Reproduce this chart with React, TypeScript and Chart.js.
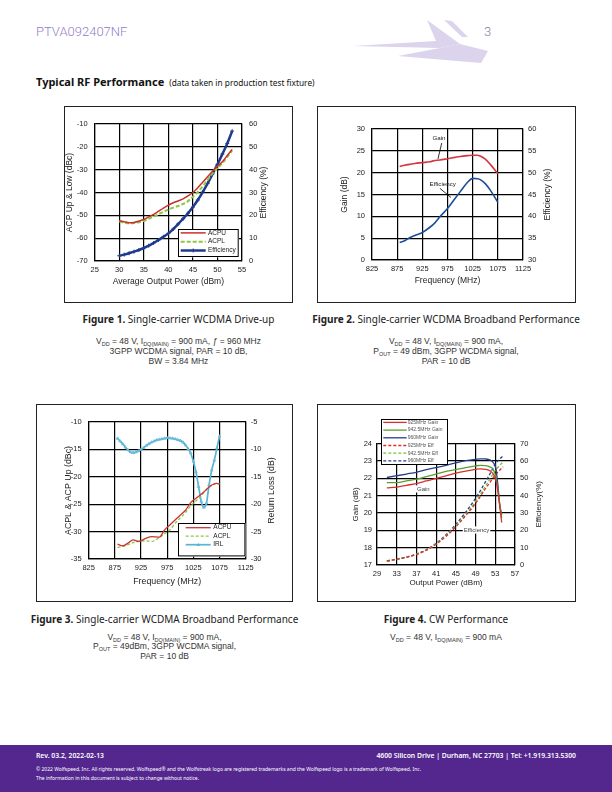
import React, { useEffect, useRef } from "react";
import { Chart, registerables } from "chart.js";

Chart.register(...registerables);

const AXIS_FONT = "'Liberation Sans', Arial, Helvetica, sans-serif";
const TEXT_FONT = "'Noto Sans', 'Open Sans', sans-serif";

// ---------- Figure 1: Single-carrier WCDMA Drive-up ----------
const fig1Pout = [30, 31, 32, 33, 34, 35, 36, 37, 38, 39, 40, 41, 42, 43, 44, 45, 46, 47, 48, 49, 50, 51, 52, 53];
const fig1Acpu = [-52.3, -52.8, -53.2, -53.1, -52.5, -51.8, -50.7, -49.6, -48.2, -46.8, -45.5, -44.5, -43.7, -42.8, -41.5, -40.0, -37.9, -35.5, -33.1, -30.6, -28.5, -26.5, -23.8, -21.1];
const fig1Acpl = [-52.6, -53.2, -53.5, -53.4, -53.0, -52.4, -51.5, -50.6, -49.5, -48.5, -47.5, -46.6, -45.9, -45.0, -43.8, -41.8, -39.8, -37.3, -34.5, -31.6, -29.3, -27.2, -24.4, -21.6];
const fig1Eff = [2.3, 2.8, 3.4, 4.1, 4.8, 5.7, 6.7, 7.9, 9.2, 10.6, 12.1, 14.0, 16.2, 18.5, 20.9, 23.6, 26.7, 30.2, 34.0, 38.1, 42.3, 46.8, 51.5, 56.9];

// ---------- Figure 2: Broadband (Gain / Efficiency) ----------
const fig2Freq = [880, 890, 900, 910, 925, 940, 950, 960, 975, 990, 1000, 1015, 1025, 1035, 1040, 1050, 1060, 1075];
const fig2Gain = [21.4, 21.7, 21.9, 22.1, 22.3, 22.5, 22.8, 22.9, 23.2, 23.5, 23.7, 23.9, 24.0, 24.0, 23.8, 23.1, 21.9, 19.8];
const fig2Eff = [34.0, 34.4, 35.1, 35.6, 36.3, 37.5, 38.5, 39.9, 41.8, 44.1, 45.6, 47.8, 48.7, 48.6, 48.4, 47.5, 46.0, 43.2];

// ---------- Figure 3: Broadband (ACP / IRL) ----------
const fig3Freq = [880, 890, 900, 910, 920, 935, 945, 960, 970, 980, 990, 1000, 1010, 1020, 1030, 1040, 1050, 1060, 1070, 1075];
const fig3Acpu = [-32.3, -32.6, -32.1, -31.5, -31.8, -31.2, -30.9, -31.0, -29.7, -28.8, -27.9, -27.0, -26.1, -24.7, -23.9, -23.2, -22.3, -21.5, -21.2, -21.4];
const fig3Acpl = [-32.9, -32.7, -32.4, -32.0, -31.8, -31.7, -31.8, -31.1, -30.4, -29.7, -28.5, -27.5, -26.5, -25.3, -24.4, -23.5, -22.3, -21.6, -21.2, -21.2];
const fig3IrlFreq = [880, 885, 890, 895, 900, 905, 910, 915, 920, 925, 930, 935, 940, 945, 950, 955, 960, 965, 970, 975, 980, 985, 990, 995, 1000, 1005, 1010, 1015, 1020, 1025, 1030, 1035, 1040, 1045, 1050, 1055, 1060, 1065, 1070, 1075];
const fig3Irl = [-8.0, -8.5, -9.0, -9.6, -10.1, -10.5, -10.6, -10.5, -10.3, -10.0, -9.7, -9.3, -9.0, -8.7, -8.5, -8.3, -8.2, -8.1, -8.0, -7.9, -7.95, -8.0, -8.1, -8.25, -8.4, -8.7, -9.2, -9.9, -10.7, -12.2, -14.1, -16.8, -19.5, -20.6, -19.8, -16.5, -13.8, -12.0, -9.8, -7.6];

// ---------- Figure 4: CW Performance ----------
const fig4GainPout = [31, 33, 35, 37, 39, 41, 43, 45, 47, 49, 50, 51, 52, 52.6, 53.1, 53.5, 53.9, 54.3];
const fig4Gain925 = [21.45, 21.5, 21.6, 21.7, 21.85, 22.0, 22.15, 22.3, 22.42, 22.52, 22.55, 22.52, 22.42, 22.25, 21.9, 21.3, 20.4, 19.45];
const fig4Gain942 = [21.75, 21.75, 21.85, 21.95, 22.1, 22.25, 22.4, 22.5, 22.62, 22.72, 22.75, 22.74, 22.65, 22.5, 22.1, 21.4, 20.5, 19.7];
const fig4Gain960 = [22.05, 22.15, 22.25, 22.35, 22.5, 22.62, 22.75, 22.9, 23.02, 23.1, 23.13, 23.12, 23.05, 22.9, 22.6, 21.7, 20.5, 19.9];
const fig4EffPout = [31, 33, 35, 37, 39, 41, 43, 45, 47, 49, 50, 51, 52, 53, 54, 54.6];
const fig4Eff925 = [2.3, 3.3, 4.5, 6.1, 8.5, 12.0, 16.5, 22.0, 28.5, 35.5, 39.7, 44.0, 48.0, 52.0, 55.0, 56.7];
const fig4Eff942 = [2.3, 3.3, 4.5, 6.2, 8.6, 12.2, 16.9, 22.6, 29.2, 36.7, 41.0, 45.5, 50.0, 54.5, 57.8, 59.6];
const fig4Eff960 = [2.3, 3.3, 4.6, 6.3, 8.8, 12.5, 17.5, 23.5, 30.5, 38.5, 43.0, 48.0, 53.0, 58.2, 61.5, 63.0];

const pts = (xs: number[], ys: number[]) => xs.map((x, i) => ({ x, y: ys[i] }));

// ---------- plugins ----------
const boxLegendPlugin = {
  id: "boxLegend",
  afterDatasetsDraw(chart: any, _a: any, o: any) {
    if (!o || !o.display) return;
    const { ctx, chartArea } = chart;
    const x0 = chartArea.left + o.left;
    const y0 = chartArea.top + o.top;
    ctx.save();
    ctx.fillStyle = "#fff";
    ctx.fillRect(x0, y0, o.width, o.height);
    ctx.strokeStyle = "#000";
    ctx.lineWidth = 1;
    ctx.strokeRect(Math.round(x0) + 0.5, Math.round(y0) + 0.5, o.width - 1, o.height - 1);
    chart.data.datasets.forEach((ds: any, i: number) => {
      const y = y0 + o.firstRow + i * o.rowGap;
      ctx.strokeStyle = ds.borderColor;
      ctx.lineWidth = ds.borderWidth;
      ctx.setLineDash(ds.borderDash || []);
      ctx.beginPath();
      ctx.moveTo(x0 + o.lineX1, y);
      ctx.lineTo(x0 + o.lineX2, y);
      ctx.stroke();
      ctx.setLineDash([]);
      if (ds.pointRadius > 0) {
        const mx = x0 + (o.lineX1 + o.lineX2) / 2;
        ctx.lineWidth = 1;
        ctx.fillStyle = ds.borderColor;
        if (ds.pointStyle === "triangle") {
          ctx.beginPath();
          ctx.moveTo(mx, y - 1.8);
          ctx.lineTo(mx + 1.8, y + 1.3);
          ctx.lineTo(mx - 1.8, y + 1.3);
          ctx.closePath();
          ctx.fill();
        } else {
          ctx.beginPath();
          ctx.moveTo(mx, y - 2);
          ctx.lineTo(mx, y + 2);
          ctx.stroke();
        }
      }
      ctx.fillStyle = o.color;
      ctx.font = `${o.size}px ${AXIS_FONT}`;
      ctx.textBaseline = "middle";
      ctx.textAlign = "left";
      ctx.fillText(ds.label, x0 + o.textX, y);
    });
    ctx.restore();
  },
};

const notesPlugin = {
  id: "notes",
  afterDatasetsDraw(chart: any, _a: any, o: any) {
    if (!o || !o.items) return;
    const { ctx } = chart;
    const xs = chart.scales.x;
    ctx.save();
    o.items.forEach((it: any) => {
      const ys = chart.scales[it.axis || "y"];
      if (it.line) {
        ctx.strokeStyle = "#000";
        ctx.lineWidth = 0.8;
        ctx.beginPath();
        ctx.moveTo(xs.getPixelForValue(it.line[0]), ys.getPixelForValue(it.line[1]));
        ctx.lineTo(xs.getPixelForValue(it.line[2]), ys.getPixelForValue(it.line[3]));
        ctx.stroke();
      }
      const px = xs.getPixelForValue(it.x);
      const py = ys.getPixelForValue(it.y);
      ctx.font = `${it.size}px ${AXIS_FONT}`;
      ctx.textAlign = "center";
      ctx.textBaseline = "middle";
      if (it.bg) {
        const w = ctx.measureText(it.text).width;
        ctx.fillStyle = "#fff";
        ctx.fillRect(px - w / 2 - 1, py - it.size * 0.6, w + 2, it.size * 1.2);
      }
      ctx.fillStyle = it.color || "#222";
      ctx.fillText(it.text, px, py);
    });
    ctx.restore();
  },
};

const sideTitlePlugin = {
  id: "sideTitle",
  afterDraw(chart: any, _a: any, o: any) {
    if (!o || !o.text) return;
    const { ctx, chartArea } = chart;
    ctx.save();
    ctx.translate(chartArea.right + o.offset, (chartArea.top + chartArea.bottom) / 2);
    ctx.rotate(-Math.PI / 2);
    ctx.font = `${o.size}px ${AXIS_FONT}`;
    ctx.fillStyle = "#222";
    ctx.textAlign = "center";
    ctx.textBaseline = "middle";
    ctx.fillText(o.text, 0, 0);
    ctx.restore();
  },
};

// ---------- axis helpers ----------
const TICK_SIZE = 7.5;

function xAxis(min: number, max: number, step: number, title: string, titleSize: number, padBottom: number, height: number, tickPad: number) {
  return {
    type: "linear",
    position: "bottom",
    min,
    max,
    ticks: {
      stepSize: step,
      padding: tickPad,
      color: "#222",
      font: { family: AXIS_FONT, size: TICK_SIZE },
      maxRotation: 0,
      autoSkip: false,
      callback: (v: any) => String(v),
    },
    grid: { color: "#000", lineWidth: 1.2, drawTicks: false },
    border: { color: "#000", width: 1.2 },
    title: { display: true, text: title, color: "#222", font: { family: AXIS_FONT, size: titleSize }, padding: { top: 0, bottom: padBottom } },
    afterFit: (s: any) => {
      s.height = height;
    },
  };
}

function yAxis(position: string, min: number, max: number, step: number, title: string | null, titleSize: number, padTop: number, width: number, tickPad: number) {
  return {
    type: "linear",
    position,
    min,
    max,
    ticks: {
      stepSize: step,
      padding: tickPad,
      color: "#222",
      font: { family: AXIS_FONT, size: TICK_SIZE },
      callback: (v: any) => String(v),
    },
    grid: { color: "#000", lineWidth: 1.2, drawTicks: false, drawOnChartArea: position === "left" },
    border: { color: "#000", width: 1.2 },
    title: title
      ? { display: true, text: title, color: "#222", font: { family: AXIS_FONT, size: titleSize }, padding: { top: padTop, bottom: 0 } }
      : { display: false },
    afterFit: (s: any) => {
      s.width = width;
    },
  };
}

const baseOptions = (topPad: number) => ({
  responsive: false,
  animation: false,
  devicePixelRatio: 1,
  layout: { padding: { top: topPad, left: 0, right: 0, bottom: 0 } },
  elements: { point: { radius: 0 }, line: { cubicInterpolationMode: "monotone" } },
});

// ---------- chart configs ----------
function fig1Config() {
  return {
    type: "line",
    data: {
      datasets: [
        { label: "ACPU", data: pts(fig1Pout, fig1Acpu), borderColor: "#cc2e2e", borderWidth: 1.5, yAxisID: "y", pointRadius: 0 },
        { label: "ACPL", data: pts(fig1Pout, fig1Acpl), borderColor: "#8dc63f", borderWidth: 2, borderDash: [4, 2], yAxisID: "y", pointRadius: 0 },
        { label: "Efficiency", data: pts(fig1Pout, fig1Eff), borderColor: "#1f3b8c", borderWidth: 2.5, yAxisID: "y1", pointRadius: 2, pointStyle: "cross", pointBorderWidth: 1 },
      ],
    },
    options: {
      ...baseOptions(18),
      scales: {
        x: xAxis(25, 55, 5, "Average Output Power (dBm)", 8.5, 16.2, 42, 4),
        y: yAxis("left", -70, -10, 10, "ACP Up & Low (dBc)", 8.5, 0.9, 30.7, 7),
        y1: yAxis("right", 0, 60, 10, null, 8.5, 0, 51, 7),
      },
      plugins: {
        legend: { display: false },
        tooltip: { enabled: false },
        boxLegend: { display: true, left: 83.6, top: 105.3, width: 60.7, height: 28, firstRow: 3.6, rowGap: 8.8, lineX1: 2.4, lineX2: 27.4, textX: 29.7, size: 6.5, color: "#222" },
        sideTitle: { text: "Efficiency (%)", offset: 22, size: 8.5 },
      },
    },
    plugins: [boxLegendPlugin, sideTitlePlugin],
  };
}

function fig2Config() {
  return {
    type: "line",
    data: {
      datasets: [
        { label: "Gain", data: pts(fig2Freq, fig2Gain), borderColor: "#d8333e", borderWidth: 1.6, yAxisID: "y" },
        { label: "Efficiency", data: pts(fig2Freq, fig2Eff), borderColor: "#1d4f9a", borderWidth: 1.6, yAxisID: "y1" },
      ],
    },
    options: {
      ...baseOptions(23),
      scales: {
        x: xAxis(825, 1125, 50, "Frequency (MHz)", 8.5, 17.2, 43, 4),
        y: yAxis("left", 0, 30, 5, "Gain (dB)", 8.5, 23.2, 56, 7),
        y1: yAxis("right", 30, 60, 5, null, 8.5, 0, 53, 5),
      },
      plugins: {
        legend: { display: false },
        tooltip: { enabled: false },
        notes: {
          items: [
            { text: "Gain", x: 958, y: 27.9, size: 6.2, line: [963.5, 26.8, 956, 23.1] },
            { text: "Efficiency", x: 965.5, y: 17.45, size: 6.2, line: [960, 16.4, 982, 14.3] },
          ],
        },
        sideTitle: { text: "Efficiency (%)", offset: 25, size: 8.5 },
      },
    },
    plugins: [notesPlugin, sideTitlePlugin],
  };
}

function fig3Config() {
  return {
    type: "line",
    data: {
      datasets: [
        { label: "ACPU", data: pts(fig3Freq, fig3Acpu), borderColor: "#cc3333", borderWidth: 1.3, yAxisID: "y", pointRadius: 0 },
        { label: "ACPL", data: pts(fig3Freq, fig3Acpl), borderColor: "#8dc63f", borderWidth: 1.3, borderDash: [3, 2], yAxisID: "y", pointRadius: 0 },
        { label: "IRL", data: pts(fig3IrlFreq, fig3Irl), borderColor: "#5ab4d6", backgroundColor: "#7fc6e0", borderWidth: 1.7, yAxisID: "y1", pointRadius: 1.6, pointBorderWidth: 0.6, pointStyle: "triangle" },
      ],
    },
    options: {
      ...baseOptions(18),
      scales: {
        x: xAxis(825, 1125, 50, "Frequency (MHz)", 8.8, 15.2, 43, 4),
        y: yAxis("left", -35, -10, 5, "ACPL & ACP Up (dBc)", 8.8, 27.7, 52.7, 7),
        y1: yAxis("right", -30, -5, 5, null, 8.8, 0, 47.3, 5),
      },
      plugins: {
        legend: { display: false },
        tooltip: { enabled: false },
        boxLegend: { display: true, left: 89.6, top: 101.3, width: 67.4, height: 33.4, firstRow: 4.4, rowGap: 8.5, lineX1: 7.4, lineX2: 32.4, textX: 35, size: 6.5, color: "#222" },
        sideTitle: { text: "Return Loss (dB)", offset: 25.6, size: 8.8 },
      },
    },
    plugins: [boxLegendPlugin, sideTitlePlugin],
  };
}

function fig4Config() {
  return {
    type: "line",
    data: {
      datasets: [
        { label: "925MHz Gain", data: pts(fig4GainPout, fig4Gain925), borderColor: "#d9302b", borderWidth: 1.3, yAxisID: "y" },
        { label: "942.5MHz Gain", data: pts(fig4GainPout, fig4Gain942), borderColor: "#5c9e2e", borderWidth: 1.3, yAxisID: "y" },
        { label: "960MHz Gain", data: pts(fig4GainPout, fig4Gain960), borderColor: "#233f8a", borderWidth: 1.3, yAxisID: "y" },
        { label: "925MHz Eff", data: pts(fig4EffPout, fig4Eff925), borderColor: "#d9302b", borderWidth: 1.3, borderDash: [3, 2], yAxisID: "y1" },
        { label: "942.5MHz Eff", data: pts(fig4EffPout, fig4Eff942), borderColor: "#7fbf3a", borderWidth: 1.3, borderDash: [3, 2], yAxisID: "y1" },
        { label: "960MHz Eff", data: pts(fig4EffPout, fig4Eff960), borderColor: "#233f8a", borderWidth: 1.3, borderDash: [3, 2], yAxisID: "y1" },
      ],
    },
    options: {
      ...baseOptions(39.7),
      scales: {
        x: xAxis(29, 57, 4, "Output Power (dBm)", 8, 14.5, 37, 4),
        y: yAxis("left", 17, 24, 1, "Gain (dB)", 8, 34.5, 61, 5),
        y1: yAxis("right", 0, 70, 10, null, 8, 0, 61, 5),
      },
      plugins: {
        legend: { display: false },
        tooltip: { enabled: false },
        notes: {
          items: [
            { text: "Gain", x: 38.4, y: 21.39, size: 6, color: "#444", bg: true },
            { text: "Efficiency", x: 49.2, y: 19.02, size: 6, color: "#444", bg: true },
          ],
        },
        boxLegend: { display: true, left: 4, top: -24.7, width: 67, height: 46, firstRow: 3.4, rowGap: 7.7, lineX1: 2.3, lineX2: 25.7, textX: 26.7, size: 5, color: "#555" },
        sideTitle: { text: "Efficiency(%)", offset: 23.7, size: 8 },
      },
    },
    plugins: [notesPlugin, boxLegendPlugin, sideTitlePlugin],
  };
}

// ---------- components ----------
function ChartCanvas({ left, top, width, height, make }: any) {
  const ref = useRef<HTMLCanvasElement>(null);
  useEffect(() => {
    const chart = new Chart(ref.current as HTMLCanvasElement, make() as any);
    return () => chart.destroy();
  }, []);
  return <canvas ref={ref} width={width} height={height} style={{ position: "absolute", left, top, width, height }} />;
}

function Frame({ left, top, width, height }: any) {
  return <div style={{ position: "absolute", left, top, width, height, border: "1px solid #222", boxSizing: "border-box", pointerEvents: "none" }} />;
}

function Line({ cx, cy, children, size = 8.5, font = AXIS_FONT, color = "#333", weight = 400 }: any) {
  return (
    <div style={{ position: "absolute", left: cx - 160, width: 320, top: cy - 6, height: 12, lineHeight: "12px", textAlign: "center", fontFamily: font, fontSize: size, color, fontWeight: weight, whiteSpace: "nowrap" }}>
      {children}
    </div>
  );
}

const subStyle: any = { fontSize: 5.5, verticalAlign: "-2px", lineHeight: 0 };

function Caption({ cx, cy, num, text }: any) {
  return (
    <Line cx={cx} cy={cy} size={10} font={TEXT_FONT} color="#222">
      <b>Figure {num}.</b> {text}
    </Line>
  );
}

export default function App() {
  return (
    <div style={{ position: "absolute", left: 0, top: 0, width: 612, height: 792, background: "#fff", overflow: "hidden" }}>
      {/* header */}
      <div style={{ position: "absolute", left: 36, top: 24, height: 16, lineHeight: "16px", fontFamily: "Roboto, 'Noto Sans', sans-serif", fontWeight: 300, fontSize: 13, color: "#9580c8" }}>PTVA092407NF</div>
      <div style={{ position: "absolute", left: 484, top: 24, height: 16, lineHeight: "16px", fontFamily: "Roboto, 'Noto Sans', sans-serif", fontWeight: 300, fontSize: 13, color: "#8a80a0" }}>3</div>
      <svg style={{ position: "absolute", left: 0, top: 0 }} width={612} height={80}>
        <polygon points="353,46 436,41 427,20 460,44 440,48" fill="#dcd3ec" />
        <polygon points="440,48 460,44 488,51 481,63 398,56" fill="#dcd3ec" />
        <polygon points="444,20 452,21 468,37 462,37" fill="#dcd3ec" />
      </svg>
      <div style={{ position: "absolute", left: 36, top: 73, height: 14, lineHeight: "14px", fontFamily: TEXT_FONT, color: "#111", whiteSpace: "nowrap" }}>
        <span style={{ fontSize: 11, fontWeight: 700 }}>Typical RF Performance</span>
        <span style={{ fontSize: 8.3, marginLeft: 5 }}>(data taken in production test fixture)</span>
      </div>

      {/* Figure 1 */}
      <ChartCanvas left={64} top={106} width={229} height={197} make={fig1Config} />
      <Frame left={64} top={106} width={229} height={197} />
      <Caption cx={178.5} cy={319} num={1} text="Single-carrier WCDMA Drive-up" />
      <Line cx={178.5} cy={341}>
        V<sub style={subStyle}>DD</sub> = 48 V, I<sub style={subStyle}>DQ(MAIN)</sub> = 900 mA, <i>ƒ</i> = 960 MHz
      </Line>
      <Line cx={178.5} cy={351}>3GPP WCDMA signal, PAR = 10 dB,</Line>
      <Line cx={178.5} cy={361}>BW = 3.84 MHz</Line>

      {/* Figure 2 */}
      <ChartCanvas left={316} top={106} width={260} height={197} make={fig2Config} />
      <Frame left={317} top={106} width={259} height={197} />
      <Caption cx={446} cy={319} num={2} text="Single-carrier WCDMA Broadband Performance" />
      <Line cx={446} cy={341}>
        V<sub style={subStyle}>DD</sub> = 48 V, I<sub style={subStyle}>DQ(MAIN)</sub> = 900 mA,
      </Line>
      <Line cx={446} cy={351}>
        P<sub style={subStyle}>OUT</sub> = 49 dBm, 3GPP WCDMA signal,
      </Line>
      <Line cx={446} cy={361}>PAR = 10 dB</Line>

      {/* Figure 3 */}
      <ChartCanvas left={36} top={404} width={257} height={198} make={fig3Config} />
      <Frame left={36} top={404} width={257} height={198} />
      <Caption cx={164.5} cy={619} num={3} text="Single-carrier WCDMA Broadband Performance" />
      <Line cx={164.5} cy={637}>
        V<sub style={subStyle}>DD</sub> = 48 V, I<sub style={subStyle}>DQ(MAIN)</sub> = 900 mA,
      </Line>
      <Line cx={164.5} cy={646}>
        P<sub style={subStyle}>OUT</sub> = 49dBm, 3GPP WCDMA signal,
      </Line>
      <Line cx={164.5} cy={656}>PAR = 10 dB</Line>

      {/* Figure 4 */}
      <ChartCanvas left={316} top={404} width={260} height={198} make={fig4Config} />
      <Frame left={317} top={404} width={259} height={198} />
      <Caption cx={446} cy={619} num={4} text="CW Performance" />
      <Line cx={446} cy={637}>
        V<sub style={subStyle}>DD</sub> = 48 V, I<sub style={subStyle}>DQ(MAIN)</sub> = 900 mA
      </Line>

      {/* footer */}
      <div style={{ position: "absolute", left: 0, top: 745, width: 612, height: 47, background: "#54278f" }} />
      <div style={{ position: "absolute", left: 36, top: 751, height: 10, lineHeight: "10px", fontFamily: TEXT_FONT, fontSize: 6.8, color: "#fff", fontWeight: 600 }}>Rev. 03.2, 2022-02-13</div>
      <div style={{ position: "absolute", right: 36, top: 751, height: 10, lineHeight: "10px", fontFamily: TEXT_FONT, fontSize: 6.8, color: "#fff", fontWeight: 600, whiteSpace: "nowrap" }}>
        4600 Silicon Drive | Durham, NC 27703 | Tel: +1.919.313.5300
      </div>
      <div style={{ position: "absolute", left: 36, top: 765, height: 8, lineHeight: "8px", fontFamily: TEXT_FONT, fontSize: 5, color: "#fff", whiteSpace: "nowrap" }}>
        © 2022 Wolfspeed, Inc. All rights reserved. Wolfspeed® and the Wolfstreak logo are registered trademarks and the Wolfspeed logo is a trademark of Wolfspeed, Inc.
      </div>
      <div style={{ position: "absolute", left: 36, top: 773.5, height: 8, lineHeight: "8px", fontFamily: TEXT_FONT, fontSize: 5, color: "#fff", whiteSpace: "nowrap" }}>
        The information in this document is subject to change without notice.
      </div>
    </div>
  );
}
